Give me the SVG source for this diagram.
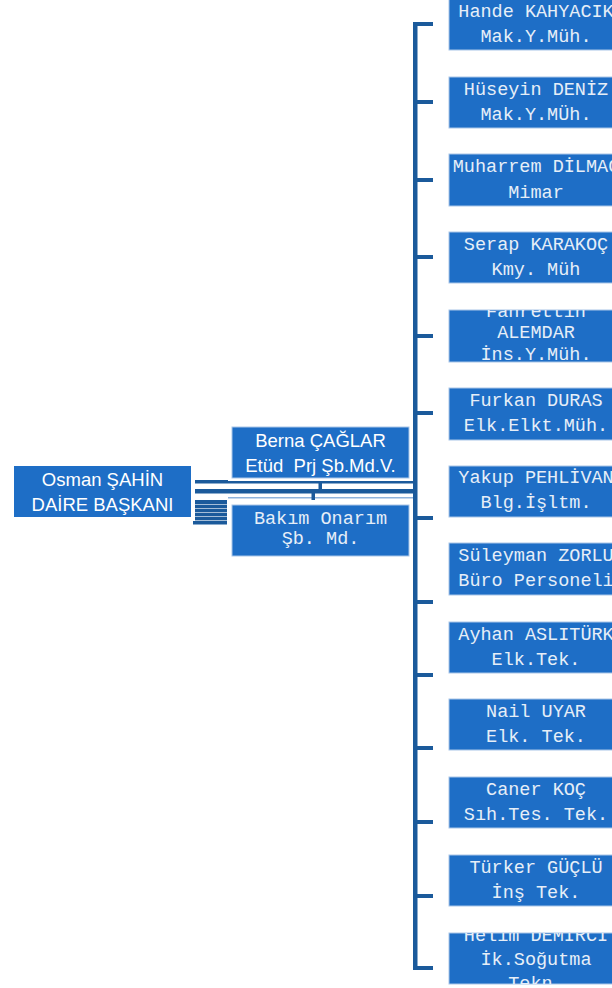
<svg xmlns="http://www.w3.org/2000/svg" width="612" height="988" viewBox="0 0 612 988">
<style>
.box{fill:#1e6ec6;stroke:#a9c6e8;stroke-width:1}
.con{fill:#1b5a9b}
.sans{font-family:"Liberation Sans",Arial,sans-serif;font-size:18.5px;fill:#ffffff;text-anchor:middle;white-space:pre}
.mono{font-family:"Liberation Mono","Courier New",monospace;font-size:18.5px;fill:#e6eef8;text-anchor:middle;white-space:pre}
</style>
<defs>
<clipPath id="c5"><rect x="449" y="310" width="180" height="52"/></clipPath>
<clipPath id="c13"><rect x="449" y="933" width="180" height="51"/></clipPath>
</defs>
<rect width="612" height="988" fill="#ffffff"/>
<g id="connectors">
<rect class="con" x="195" y="480" width="33" height="3.5"/>
<rect class="con" x="228" y="481" width="186" height="2.5"/>
<rect class="con" x="195" y="489" width="219" height="4.5"/>
<rect class="con" x="318.5" y="483" width="3.5" height="6.5"/>
<rect x="228" y="497" width="186" height="1.5" fill="#8fb3dc"/>
<rect class="con" x="311.5" y="493" width="3.5" height="7"/>
<rect class="con" x="195" y="500" width="32" height="24"/>
<g fill="#ffffff" opacity="0.6">
<rect x="195" y="504" width="32" height="1"/>
<rect x="195" y="508" width="32" height="1"/>
<rect x="195" y="512" width="32" height="1"/>
<rect x="195" y="516" width="32" height="1"/>
<rect x="195" y="520" width="32" height="1"/>
</g>
<rect class="con" x="193" y="521" width="34" height="3.5"/>
<rect class="con" x="413" y="22" width="4.5" height="948"/>
<rect class="con" x="413" y="22" width="20" height="4"/>
<rect class="con" x="413" y="100" width="20" height="4"/>
<rect class="con" x="413" y="178" width="20" height="4"/>
<rect class="con" x="413" y="255" width="20" height="4"/>
<rect class="con" x="413" y="334" width="20" height="4"/>
<rect class="con" x="413" y="411" width="20" height="4"/>
<rect class="con" x="413" y="516" width="20" height="4"/>
<rect class="con" x="413" y="600" width="20" height="4"/>
<rect class="con" x="413" y="673" width="20" height="4"/>
<rect class="con" x="413" y="746" width="20" height="4"/>
<rect class="con" x="413" y="820" width="20" height="4"/>
<rect class="con" x="413" y="894" width="20" height="4"/>
<rect class="con" x="413" y="966" width="20" height="4"/>
</g>
<g id="osman">
<rect x="14" y="466" width="177" height="51" fill="#1e6ec6"/>
<text class="sans" x="102.5" y="486">Osman ŞAHİN</text>
<text class="sans" x="102.5" y="511">DAİRE BAŞKANI</text>
</g>
<g id="berna">
<rect class="box" x="232" y="427" width="177" height="51" stroke="#d3e2f3"/>
<text class="sans" x="320.5" y="446.5">Berna ÇAĞLAR</text>
<text class="sans" x="320.5" y="471.5" xml:space="preserve">Etüd  Prj Şb.Md.V.</text>
</g>
<g id="bakim">
<rect class="box" x="232" y="505" width="177" height="51" stroke="#d3e2f3"/>
<text class="mono" x="320.5" y="524">Bakım Onarım</text>
<text class="mono" x="320.5" y="543.5">Şb. Md.</text>
</g>
<g id="p1"><rect class="box" x="449" y="-1" width="180" height="51"/>
<text class="mono" x="536" y="17">Hande KAHYACIK</text><text class="mono" x="536" y="42">Mak.Y.Müh.</text></g>
<g id="p2"><rect class="box" x="449" y="77" width="180" height="51"/>
<text class="mono" x="536" y="95">Hüseyin DENİZ</text><text class="mono" x="536" y="120">Mak.Y.MÜh.</text></g>
<g id="p3"><rect class="box" x="449" y="154" width="180" height="52"/>
<text class="mono" x="536" y="172">Muharrem DİLMAÇ</text><text class="mono" x="536" y="198">Mimar</text></g>
<g id="p4"><rect class="box" x="449" y="232" width="180" height="51"/>
<text class="mono" x="536" y="250">Serap KARAKOÇ</text><text class="mono" x="536" y="275">Kmy. Müh</text></g>
<g id="p5"><rect class="box" x="449" y="310" width="180" height="52"/>
<g clip-path="url(#c5)">
<text class="mono" x="536" y="317">Fahrettin</text><text class="mono" x="536" y="338">ALEMDAR</text><text class="mono" x="536" y="360">İns.Y.Müh.</text></g></g>
<g id="p6"><rect class="box" x="449" y="388" width="180" height="52"/>
<text class="mono" x="536" y="406">Furkan DURAS</text><text class="mono" x="536" y="431">Elk.Elkt.Müh.</text></g>
<g id="p7"><rect class="box" x="449" y="466" width="180" height="51"/>
<text class="mono" x="536" y="483">Yakup PEHLİVAN</text><text class="mono" x="536" y="508">Blg.İşltm.</text></g>
<g id="p8"><rect class="box" x="449" y="543" width="180" height="52"/>
<text class="mono" x="536" y="561">Süleyman ZORLU</text><text class="mono" x="536" y="586">Büro Personeli</text></g>
<g id="p9"><rect class="box" x="449" y="622" width="180" height="51"/>
<text class="mono" x="536" y="640">Ayhan ASLITÜRK</text><text class="mono" x="536" y="665">Elk.Tek.</text></g>
<g id="p10"><rect class="box" x="449" y="699" width="180" height="51"/>
<text class="mono" x="536" y="717">Nail UYAR</text><text class="mono" x="536" y="742">Elk. Tek.</text></g>
<g id="p11"><rect class="box" x="449" y="777" width="180" height="51"/>
<text class="mono" x="536" y="795">Caner KOÇ</text><text class="mono" x="536" y="820">Sıh.Tes. Tek.</text></g>
<g id="p12"><rect class="box" x="449" y="855" width="180" height="51"/>
<text class="mono" x="536" y="873">Türker GÜÇLÜ</text><text class="mono" x="536" y="898">İnş Tek.</text></g>
<g id="p13"><rect class="box" x="449" y="933" width="180" height="51"/>
<g clip-path="url(#c13)">
<text class="mono" x="536" y="941">Helim DEMİRCİ</text><text class="mono" x="536" y="965">İk.Soğutma</text><text class="mono" x="536" y="989">Tekn.</text></g></g>
</svg>
